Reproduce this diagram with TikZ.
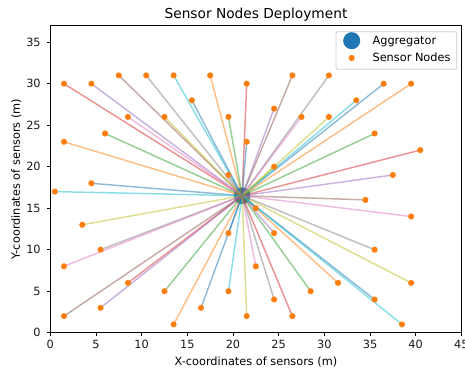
\documentclass[tikz,border=0pt]{standalone}
\usepackage{fontspec}
\setmainfont{DejaVu Sans}
\definecolor{cC0}{HTML}{1F77B4}
\definecolor{cC1}{HTML}{FF7F0E}
\definecolor{cC2}{HTML}{2CA02C}
\definecolor{cC3}{HTML}{D62728}
\definecolor{cC4}{HTML}{9467BD}
\definecolor{cC5}{HTML}{8C564B}
\definecolor{cC6}{HTML}{E377C2}
\definecolor{cC7}{HTML}{7F7F7F}
\definecolor{cC8}{HTML}{BCBD22}
\definecolor{cC9}{HTML}{17BECF}
\definecolor{legframe}{HTML}{CCCCCC}
\pgfdeclarelayer{aggl}
\pgfdeclarelayer{linkl}
\pgfsetlayers{aggl,linkl,main}
\tikzset{
  sensor/.style={circle, fill=cC1, inner sep=0pt, minimum size=4.6pt},
  aggnode/.style={circle, fill=cC0, inner sep=0pt, minimum size=12.4pt},
  link/.style={line width=1.1pt, draw opacity=0.5},
  spine/.style={line width=0.6pt, black},
  ticklab/.style={font=\fontsize{8.5pt}{10pt}\selectfont, inner sep=0pt, text=black!90},
  axlab/.style={font=\fontsize{8.5pt}{10pt}\selectfont, inner sep=0pt},
  titlelab/.style={font=\fontsize{10.3pt}{12pt}\selectfont, inner sep=0pt},
  legbox/.style={draw=legframe, fill=white, fill opacity=0.8, draw opacity=1, rounded corners=1.5pt, line width=0.6pt}
}
\begin{document}
\begin{tikzpicture}[x=0.75pt,y=0.75pt]
\useasboundingbox (0,0) rectangle (465,372);
\begin{scope}[shift={(37.725pt,29.475pt)}, x=6.851pt, y=6.225pt]
  % aggregator
  \begin{pgfonlayer}{aggl}
    \node[aggnode] (agg) at (21,16.5) {};
  \end{pgfonlayer}
  % sensors and links
  \foreach \i/\px/\py/\c in {
    1/1.5/30/cC3, 2/4.5/30/cC4, 3/7.5/31/cC5, 4/10.5/31/cC7, 5/13.5/31/cC9,
    6/17.5/31/cC1, 7/15.5/28/cC0, 8/8.5/26/cC6, 9/12.5/26/cC8, 10/19.5/26/cC2,
    11/6/24/cC2, 12/1.5/23/cC1, 13/4.5/18/cC0, 14/19.5/19/cC7, 15/0.5/17/cC9,
    16/21.5/30/cC3, 17/26.5/31/cC5, 18/30.5/31/cC7, 19/36.5/30/cC0, 20/39.5/30/cC1,
    21/24.5/27/cC4, 22/27.5/26/cC6, 23/30.5/26/cC8, 24/33.5/28/cC9, 25/35.5/24/cC2,
    26/40.5/22/cC3, 27/37.5/19/cC4, 28/21.5/23/cC0, 29/24.5/20/cC8, 30/3.5/13/cC8,
    31/5.5/10/cC7, 32/1.5/8/cC6, 33/8.5/6/cC3, 34/12.5/5/cC2, 35/19.5/5/cC9,
    36/19.5/12/cC0, 37/1.5/2/cC5, 38/5.5/3/cC4, 39/13.5/1/cC1, 40/16.5/3/cC0,
    41/34.5/16/cC5, 42/39.5/14/cC6, 43/22.5/15/cC0, 44/24.5/12/cC4, 45/35.5/10/cC7,
    46/22.5/8/cC6, 47/31.5/6/cC1, 48/39.5/6/cC8, 49/28.5/5/cC2, 50/24.5/4/cC7,
    51/35.5/4/cC0, 52/21.5/2/cC8, 53/26.5/2/cC3, 54/38.5/1/cC9}
  {
    \node[sensor] (s\i) at (\px,\py) {};
    \begin{pgfonlayer}{linkl}
      \draw[link, draw=\c] (agg.center) -- (s\i.center);
    \end{pgfonlayer}
  }
  % axes frame
  \draw[spine] (0,0) rectangle (45,37);
  \foreach \t in {0,5,...,45} {
    \draw[spine] (\t,0) -- ++(0,-2.6pt);
    \node[ticklab, anchor=base] at ([yshift=-12.2pt]\t,0) {\t};
  }
  \foreach \t in {0,5,...,35} {
    \draw[spine] (0,\t) -- ++(-2.6pt,0);
    \node[ticklab, anchor=east] at ([xshift=-7pt]0,\t) {\t};
  }
\end{scope}
% axis labels and title
\node[axlab, anchor=base] (xlab) at (256,7) {X-coordinates of sensors (m)};
\node[axlab, anchor=base, rotate=90] (ylab) at (19.9,192.8) {Y-coordinates of sensors (m)};
\node[titlelab, anchor=base] (title) at (256,353.7) {Sensor Nodes Deployment};
% legend
\draw[legbox] (336,302.7) rectangle (456.7,340.3);
\node[aggnode, minimum size=12.8pt] (legagg) at (351.7,331.3) {};
\node[sensor] (legsens) at (351.7,314) {};
\node[axlab, anchor=base west] (legt1) at (372.3,327.8) {Aggregator};
\node[axlab, anchor=base west] (legt2) at (372.3,310.5) {Sensor Nodes};
\end{tikzpicture}
\end{document}
